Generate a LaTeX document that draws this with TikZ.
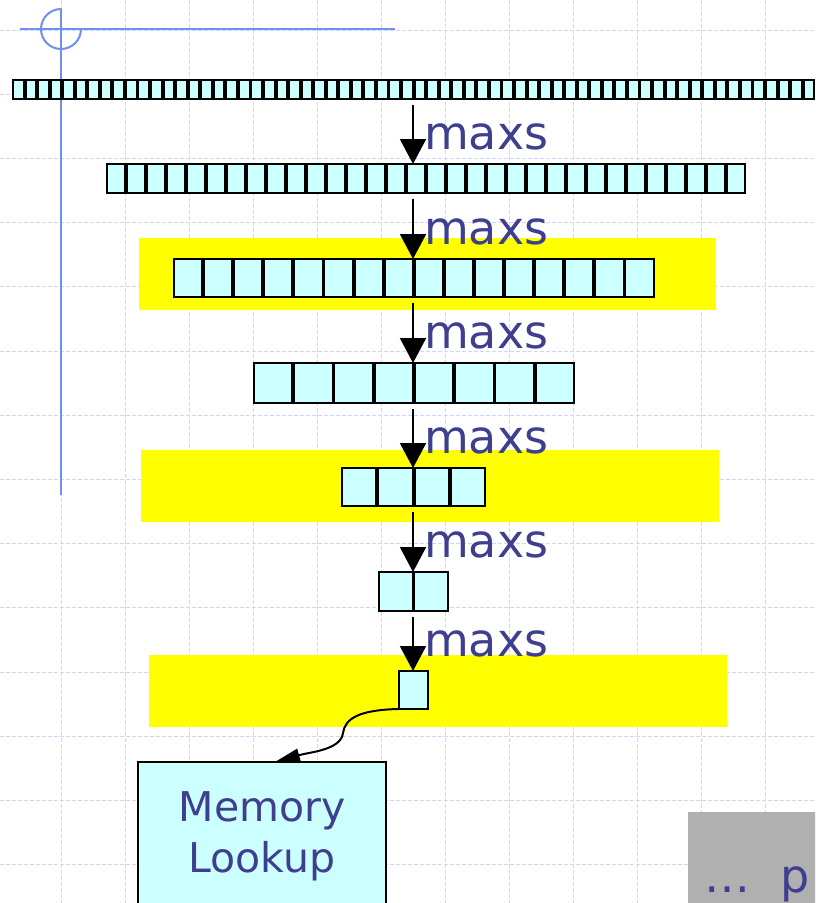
\documentclass[tikz,border=0pt]{standalone}
\usepackage{fontspec}
\setsansfont{DejaVu Sans}
\usetikzlibrary{arrows.meta,calc}

\definecolor{cellcyan}{RGB}{204,255,255}
\definecolor{bandyellow}{RGB}{255,255,0}
\definecolor{slideblue}{RGB}{112,144,240}
\definecolor{gridblue}{RGB}{205,216,250}
\definecolor{textblue}{RGB}{63,63,143}
\definecolor{moregray}{RGB}{176,176,176}

\begin{document}
\begin{tikzpicture}[
  x=1pt, y=-1pt,
  font=\sffamily,
  flow/.style={-{Triangle[length=25pt,width=26pt]}, line width=2pt, draw=black, shorten <=6pt},
  curvy/.style={-{Triangle[length=25pt,width=13pt]}, line width=2pt, draw=black},
  cell/.style={draw=black, fill=cellcyan, line width=2.1pt},
  rowspan/.style={inner sep=0pt, outer sep=0pt, anchor=north west},
  band/.style={fill=bandyellow, inner sep=0pt, outer sep=0pt, anchor=north west},
  lbl/.style={font=\fontsize{46}{50}\selectfont\sffamily, text=textblue, inner sep=0pt,
              anchor=base west, xshift=10pt, yshift=15pt},
  membox/.style={draw=black, fill=cellcyan, line width=1.6pt, text=textblue, align=center,
                 font=\fontsize{41}{51}\selectfont\sffamily, inner ysep=30pt, outer sep=0pt},
  morebox/.style={fill=moregray, text=textblue, font=\fontsize{46}{50}\selectfont\sffamily,
                  inner xsep=16pt, inner ysep=0pt, text height=80pt, text depth=20pt},
  gridline/.style={draw=gridblue, line width=0.8pt, dash pattern=on 4pt off 2pt},
  slideline/.style={draw=slideblue, line width=2pt},
]
\useasboundingbox (0,0) rectangle (815,903);
\clip (0,0) rectangle (815,903);
\fill[white] (0,0) rectangle (815,903);

% ---------------- slide background ----------------
\foreach \gx in {-3,61,...,829}
  \draw[gridline] (\gx,0) -- (\gx,903);
\foreach \k in {0,...,13}
  \draw[gridline] (0,{30+\k*64.2}) -- (815,{30+\k*64.2});
\draw[slideline] (20,29) -- (395,29);
\draw[slideline] (61,8) -- (61,495);
\draw[slideline] (61,9) arc[start angle=270, end angle=0, radius=20];

% ---------------- highlight bands ----------------
\node[band, minimum width=577pt, minimum height=72pt] (b3) at (139,238) {};
\node[band, minimum width=578pt, minimum height=72pt] (b5) at (141,450) {};
\node[band, minimum width=578pt, minimum height=72pt] (b7) at (149,655) {};

% ---------------- rows of cells ----------------
\foreach \nm/\x/\y/\n/\p/\h in {r1/12/80/64/12.55/19, r2/106/164/32/20/29,
    r3/173/259/16/30.1/38, r4/253/363/8/40.25/40, r5/341/468/4/36.3/38,
    r6/378/572/2/35.5/39, r7/398/671/1/31/38}{
  \node[rowspan, minimum width={\n*\p}, minimum height=\h] (\nm) at (\x,\y) {};
  \foreach \i in {1,...,\n}
    \draw[cell] ($(\nm.north west)+({(\i-1)*\p+0.9},0)$) rectangle ++({\p-1.8},\h);
}

% ---------------- reduction steps ----------------
\coordinate (ax) at (413,0);
\foreach \a/\b in {r1/r2, r2/r3, r3/r4, r4/r5, r5/r6, r6/r7}
  \draw[flow] (\a.south -| ax) -- (\b.north -| ax) node[lbl] {maxs};

% ---------------- lookup ----------------
\node[membox, anchor=north, minimum width=248pt] (mem) at (262,762) {Memory\\Lookup};
\draw[curvy] (r7.south west) .. controls (360,710) and (345,718) .. (343,733)
  .. controls (341,750) and (310,752) .. ([xshift=13pt]mem.north);

\node[morebox, anchor=north west] (more) at (688,812) {…\hspace{30pt}p};

\end{tikzpicture}
\end{document}
